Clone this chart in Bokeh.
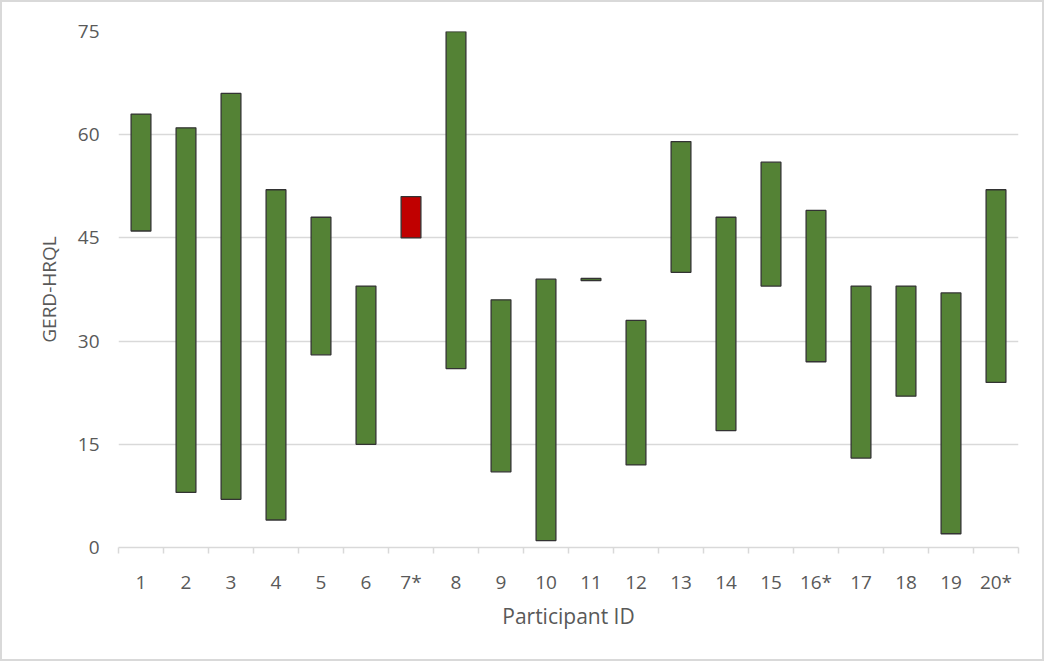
from bokeh.plotting import figure
from bokeh.models import FixedTicker, ColumnDataSource
from bokeh.embed import file_html
from bokeh.resources import INLINE

participants = ["1", "2", "3", "4", "5", "6", "7*", "8", "9", "10",
                "11", "12", "13", "14", "15", "16*", "17", "18", "19", "20*"]
low_values = [46, 8, 7, 4, 28, 15, 45, 26, 11, 1, 38.8, 12, 40, 17, 38, 27, 13, 22, 2, 24]
high_values = [63, 61, 66, 52, 48, 38, 51, 75, 36, 39, 39.1, 33, 59, 48, 56, 49, 38, 38, 37, 52]
colors = ["#548235"] * 6 + ["#c00000"] + ["#548235"] * 13
y_ticks = [0, 15, 30, 45, 60, 75]

xs = list(range(1, len(participants) + 1))
src = ColumnDataSource(dict(x=xs, low=low_values, high=high_values, color=colors))

FONT = "Open Sans"
GRAY = "#595959"

p = figure(frame_width=900, frame_height=516, x_range=(0.5, 20.5), y_range=(0, 75),
           output_backend="svg", toolbar_location=None,
           min_border_left=116, min_border_right=24, min_border_top=29, min_border_bottom=112)
p.styles = {"border": "2px solid #d9d9d9"}
p.outline_line_color = None
p.background_fill_color = "white"

p.vbar(x="x", bottom="low", top="high", width=0.44, fill_color="color",
       line_color="#333333", line_width=1.3, source=src)

p.xgrid.grid_line_color = None
p.ygrid.grid_line_color = "#d9d9d9"
p.ygrid.grid_line_width = 1.5
p.yaxis.ticker = FixedTicker(ticks=y_ticks)
p.yaxis.axis_line_color = None
p.yaxis.major_tick_line_color = None
p.yaxis.major_tick_out = 0
p.yaxis.major_tick_in = 0
p.yaxis.minor_tick_line_color = None
p.yaxis.major_label_text_font = FONT
p.yaxis.major_label_text_font_size = "19px"
p.yaxis.major_label_text_color = GRAY
p.yaxis.major_label_standoff = 19
p.yaxis.axis_label = "GERD-HRQL"
p.yaxis.axis_label_text_font = FONT
p.yaxis.axis_label_text_font_size = "19px"
p.yaxis.axis_label_text_font_style = "normal"
p.yaxis.axis_label_text_color = GRAY
p.yaxis.axis_label_standoff = 13

p.xaxis.ticker = FixedTicker(ticks=xs, minor_ticks=[x - 0.5 for x in xs] + [len(xs) + 0.5])
p.xaxis.major_label_overrides = {x: lab for x, lab in zip(xs, participants)}
p.xaxis.axis_line_color = "#d9d9d9"
p.xaxis.axis_line_width = 1.5
p.xaxis.major_tick_line_color = None
p.xaxis.major_tick_out = 0
p.xaxis.major_tick_in = 0
p.xaxis.minor_tick_line_color = "#d9d9d9"
p.xaxis.minor_tick_line_width = 1.5
p.xaxis.minor_tick_out = 6
p.xaxis.minor_tick_in = 0
p.xaxis.major_label_text_font = FONT
p.xaxis.major_label_text_font_size = "19px"
p.xaxis.major_label_text_color = GRAY
p.xaxis.major_label_standoff = 15
p.xaxis.axis_label = "Participant ID"
p.xaxis.axis_label_text_font = FONT
p.xaxis.axis_label_text_font_size = "21px"
p.xaxis.axis_label_text_font_style = "normal"
p.xaxis.axis_label_text_color = GRAY
p.xaxis.axis_label_standoff = 4

open("out.html", "w").write(file_html(p, INLINE))
